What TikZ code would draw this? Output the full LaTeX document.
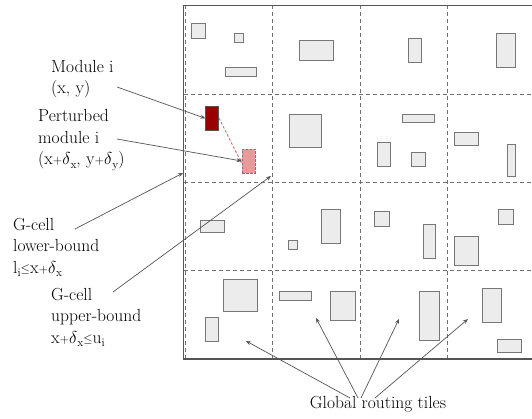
\documentclass[tikz,border=0pt]{standalone}
\usetikzlibrary{arrows.meta}
\definecolor{modfill}{HTML}{ECECEC}
\definecolor{moddraw}{HTML}{777777}
\definecolor{gridc}{HTML}{707070}
\definecolor{outerc}{HTML}{555555}
\definecolor{darkred}{HTML}{990000}
\definecolor{pinkmod}{HTML}{E89A9A}
\definecolor{arrowc}{HTML}{555555}
\definecolor{reddash}{HTML}{E05050}
\newcommand\lowsub[1]{\raisebox{-0.45ex}{\fontsize{11.5}{11.5}\selectfont #1}}
\newcommand\nplus{{\fontsize{12.5}{12.5}\selectfont +}}
\newcommand\nle{\raisebox{0.1ex}{\fontsize{12.5}{12.5}\selectfont$\le$}}
\newcommand\dlt{$\delta$}
\begin{document}
\begin{tikzpicture}[x=1pt,y=-1pt,
  mod/.style={draw=moddraw,fill=modfill,line width=0.9pt},
  gridline/.style={draw=gridc,line width=0.7pt,dash pattern=on 4pt off 3pt},
  outer/.style={draw=outerc,line width=1.5pt},
  lbl/.style={inner sep=0pt,align=left,anchor=north west,font=\fontsize{17.5}{21.5}\selectfont},
  conn/.style={draw=arrowc,line width=0.7pt},
  arr/.style={conn,-{Stealth[length=5pt,width=4pt]}},
  redmod/.style={draw=outerc,fill=darkred,line width=0.8pt,inner sep=0pt,minimum width=13pt,minimum height=24pt},
  pinkmodule/.style={draw=moddraw,fill=pinkmod,line width=0.8pt,dash pattern=on 2.5pt off 1.5pt,inner sep=0pt,minimum width=13pt,minimum height=24pt}]
\useasboundingbox (0,0) rectangle (532,419);
\clip (0,0) rectangle (532,419);
% grid
\draw[gridline] (185,5) rectangle (540,358);
\foreach \gx in {272,360,447} \draw[gridline] (\gx,5) -- (\gx,359);
\foreach \gy in {94,182,270} \draw[gridline] (184,\gy) -- (540,\gy);
\draw[outer] (183.5,5.5) rectangle (545,359);
% gray modules
\draw[mod] (191.3,23.3) rectangle (205.7,38);
\draw[mod] (234.7,33.7) rectangle (243.3,42.3);
\draw[mod] (225,67.3) rectangle (256.7,76);
\draw[mod] (299.3,40.7) rectangle (333.3,60.3);
\draw[mod] (289.3,114) rectangle (321.3,147.7);
\draw[mod] (408.3,38.3) rectangle (421,62.3);
\draw[mod] (496.3,33.3) rectangle (515.7,67.3);
\draw[mod] (402.7,114) rectangle (434.7,122.7);
\draw[mod] (377.7,142.7) rectangle (390.3,166.7);
\draw[mod] (411,152.3) rectangle (425.7,166.7);
\draw[mod] (454.3,132.3) rectangle (478.7,145);
\draw[mod] (507,144.3) rectangle (515.7,176.3);
\draw[mod] (200,220.3) rectangle (224,232.7);
\draw[mod] (288,240) rectangle (297,249);
\draw[mod] (321,209.7) rectangle (340.3,243.3);
\draw[mod] (223.7,279.3) rectangle (257.7,311.3);
\draw[mod] (205.7,317) rectangle (218.3,341);
\draw[mod] (279.7,291.3) rectangle (311.7,300);
\draw[mod] (330.7,291.3) rectangle (355.3,320.3);
\draw[mod] (374.3,211.3) rectangle (389.3,226);
\draw[mod] (423.3,224) rectangle (435.7,258);
\draw[mod] (454.3,236) rectangle (478.7,265);
\draw[mod] (498.7,209.7) rectangle (513.3,224.3);
\draw[mod] (419.7,291.3) rectangle (439.3,340);
\draw[mod] (482.3,288) rectangle (501.7,322);
\draw[mod] (497.7,339.3) rectangle (521.7,352);
% module i and perturbed module
\node[redmod] (red) at (212.2,118.3) {};
\node[pinkmodule] (pink) at (248.5,161) {};
\draw[draw=reddash,line width=0.8pt,dash pattern=on 2.5pt off 2pt,-{Stealth[length=5pt,width=4pt]}] (red.east) -- ([yshift=-2pt]pink.west);
% labels
\node[lbl] (lmod) at (51,60) {Module i\\(x, y)};
\node[lbl] (lpert) at (38,109.5) {Perturbed\\module i\\(x\nplus\dlt\lowsub{x}, y\nplus\dlt\lowsub{y})};
\node[lbl] (llow) at (13,218) {G-cell\\lower-bound\\l\lowsub{i}\nle x\nplus\dlt\lowsub{x}};
\node[lbl] (lup) at (51,288) {G-cell\\upper-bound\\x\nplus\dlt\lowsub{x}\nle u\lowsub{i}};
\node[lbl,anchor=north] (lglob) at (378,396) {Global routing tiles};
% connector start/end points
\coordinate (smod) at (117,87);
\coordinate (spert) at (117,139);
\coordinate (slow) at (75,229);
\coordinate (elow) at (183,173);
\coordinate (sup) at (113,292);
\coordinate (eup) at (271,176);
\coordinate (g1s) at (350,398);
\coordinate (g2s) at (358,398);
\coordinate (g3s) at (361,398);
\coordinate (g4s) at (375,398);
\coordinate (g1e) at (246,341);
\coordinate (g2e) at (316,318);
\coordinate (g3e) at (399,319);
\coordinate (g4e) at (468,319);
% connectors
\draw[arr] (smod) -- (red.west);
\draw[arr] (spert) -- (pink.west);
\draw[arr] (slow) -- (elow);
\draw[arr] (sup) -- (eup);
\draw[arr] (g1s) -- (g1e);
\draw[arr] (g2s) -- (g2e);
\draw[arr] (g3s) -- (g3e);
\draw[arr] (g4s) -- (g4e);
\end{tikzpicture}
\end{document}
